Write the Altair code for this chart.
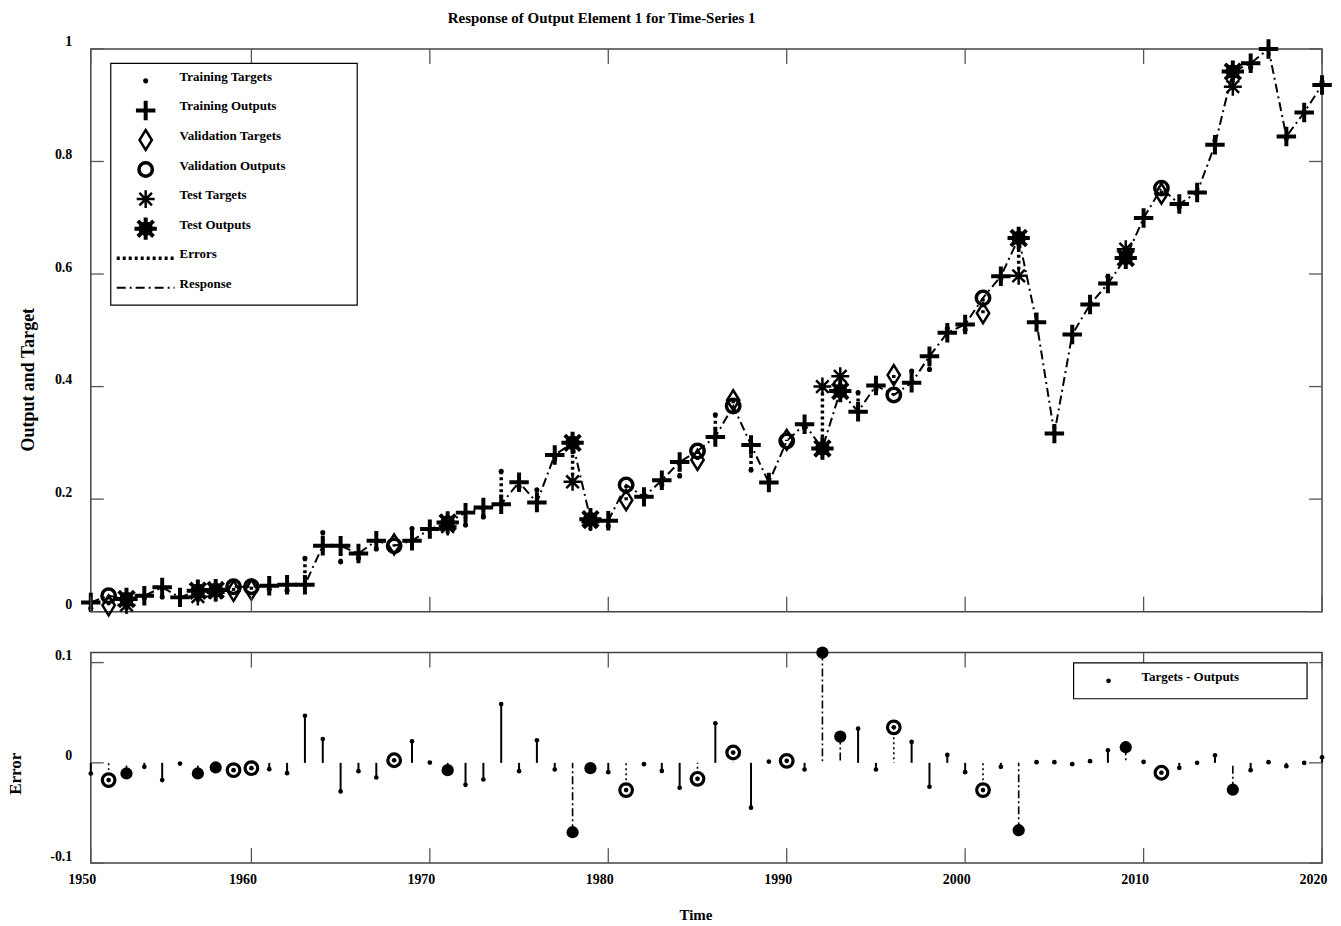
import altair as alt
import pandas as pd

# ---------------- data ----------------
YEARS = [1951, 1952, 1953, 1954, 1955, 1956, 1957, 1958, 1959, 1960,
         1961, 1962, 1963, 1964, 1965, 1966, 1967, 1968, 1969, 1970,
         1971, 1972, 1973, 1974, 1975, 1976, 1977, 1978, 1979, 1980,
         1981, 1982, 1983, 1984, 1985, 1986, 1987, 1988, 1989, 1990,
         1991, 1992, 1993, 1994, 1995, 1996, 1997, 1998, 1999, 2000,
         2001, 2002, 2003, 2004, 2005, 2006, 2007, 2008, 2009, 2010,
         2011, 2012, 2013, 2014, 2015, 2016, 2017, 2018, 2019, 2020]

OUTPUTS = [0.0165, 0.0284, 0.0225, 0.0284, 0.0432, 0.0254, 0.0373, 0.0384, 0.0443, 0.0443,
           0.0461, 0.0479, 0.0479, 0.1170, 0.1170, 0.1034, 0.1260, 0.1170, 0.1260, 0.1467,
           0.1585, 0.1760, 0.1850, 0.1910, 0.2300, 0.1940, 0.2785, 0.3000, 0.1644, 0.1614,
           0.2253, 0.2040, 0.2336, 0.2660, 0.2856, 0.3105, 0.3654, 0.2963, 0.2294, 0.3034,
           0.3330, 0.2900, 0.3920, 0.3554, 0.4020, 0.3850, 0.4068, 0.4540, 0.4955, 0.5104,
           0.5576, 0.5960, 0.6640, 0.5145, 0.3164, 0.4926, 0.5460, 0.5830, 0.6286, 0.6995,
           0.7527, 0.7243, 0.7450, 0.8297, 0.9597, 0.9745, 1.0000, 0.8444, 0.8870, 0.9360]

ERRORS = [-0.0106, -0.0172, -0.0106, -0.0040, -0.0172, -0.0007, -0.0106, -0.0046, -0.0073, -0.0053,
          -0.0063, -0.0103, 0.0470, 0.0238, -0.0285, -0.0083, -0.0146, 0.0026, 0.0215, 0.0003,
          -0.0073, -0.0219, -0.0166, 0.0586, -0.0083, 0.0225, -0.0066, -0.0692, -0.0053, -0.0093,
          -0.0272, -0.0013, -0.0080, -0.0248, -0.0159, 0.0394, 0.0103, -0.0447, 0.0013, 0.0020,
          -0.0066, 0.1100, 0.0262, 0.0341, -0.0066, 0.0354, 0.0209, -0.0238, 0.0079, -0.0093,
          -0.0272, -0.0040, -0.0672, 0.0007, 0.0007, -0.0013, 0.0017, 0.0126, 0.0156, 0.0010,
          -0.0099, -0.0050, 0.0000, 0.0076, -0.0268, -0.0073, 0.0007, -0.0033, 0.0000, 0.0056]

# T = training, V = validation, S = test
SUBSET = ["T", "V", "S", "T", "T", "T", "S", "S", "V", "V",
          "T", "T", "T", "T", "T", "T", "T", "V", "T", "T",
          "S", "T", "T", "T", "T", "T", "T", "S", "S", "T",
          "V", "T", "T", "T", "V", "T", "V", "T", "T", "V",
          "T", "S", "S", "T", "T", "V", "T", "T", "T", "T",
          "V", "T", "S", "T", "T", "T", "T", "T", "S", "T",
          "V", "T", "T", "T", "S", "T", "T", "T", "T", "T"]

X_TICKS = [1951, 1960, 1970, 1980, 1990, 2000, 2010, 2020]
X_TICK_LABELS = ["1950", "1960", "1970", "1980", "1990", "2000", "2010", "2020"]
Y_TICKS_TOP = [0, 0.2, 0.4, 0.6, 0.8, 1]
Y_TICKS_BOT = [-0.1, 0, 0.1]

LEGEND_LABELS = ["Training Targets", "Training Outputs", "Validation Targets",
                 "Validation Outputs", "Test Targets", "Test Outputs", "Errors", "Response"]
ERR_LEGEND = ["Targets - Outputs"]

TITLE = ["Response of Output Element 1 for Time-Series 1"]

# ---------------- styling ----------------
FONT = "Liberation Serif"
W, H1, H2 = 1234, 564, 211
FRAME = "#444444"
PLUS = "M-1,0L1,0M0,-1L0,1"
ASTER = "M-1,0L1,0M0,-1L0,1M-0.7,-0.7L0.7,0.7M-0.7,0.7L0.7,-0.7"
DIAMOND = "M0,-1L0.62,0L0,1L-0.62,0Z"
DASHDOT = [9, 4, 2, 4]

df = pd.DataFrame({"year": YEARS, "output": OUTPUTS, "error": ERRORS, "subset": SUBSET})
df["target"] = df["output"] + df["error"]
df["zero"] = 0.0

xt_df = pd.DataFrame({"t": X_TICKS})
yt_top_df = pd.DataFrame({"v": Y_TICKS_TOP})
yt_bot_df = pd.DataFrame({"v": Y_TICKS_BOT})
leg_df = pd.DataFrame({"label": LEGEND_LABELS, "row": list(range(len(LEGEND_LABELS)))})
one_df = pd.DataFrame({"label": ERR_LEGEND})
title_df = pd.DataFrame({"label": TITLE})

xs = alt.Scale(domain=[YEARS[0], YEARS[-1]], nice=False, zero=False)
ys_top = alt.Scale(domain=[0, 1], nice=False, zero=False)
ys_bot = alt.Scale(domain=[-0.1, 0.11], nice=False, zero=False)

X_none = alt.X("year:Q", scale=xs, axis=None)

label_expr = "".join(f"datum.value == {v} ? '{l}' : " for v, l in zip(X_TICKS, X_TICK_LABELS)) + "''"

x_axis_bot = alt.Axis(values=X_TICKS, labelExpr=label_expr, labelOffset=-9, labelPadding=9,
                      labelFontSize=14, labelOverlap=False, labelFlush=False,
                      title="Time", titleFontSize=15, titleX=606, titleY=52,
                      titleBaseline="middle", titleAlign="center")
y_axis_top = alt.Axis(values=Y_TICKS_TOP, format="~g", labelOffset=-7, labelPadding=19,
                      labelFontSize=14, labelOverlap=False, labelFlush=False,
                      title="Output and Target", titleFontSize=18, titleAngle=-90,
                      titleX=-62, titleY=331, titleAlign="center", titleBaseline="middle")
y_axis_bot = alt.Axis(values=Y_TICKS_BOT, format="~g",
                      labelExpr="replace(datum.label, '\u2212', '-')",
                      labelOffset=-7, labelPadding=19, labelFontSize=14,
                      labelOverlap=False, labelFlush=False,
                      title="Error", titleFontSize=17, titleAngle=-90,
                      titleX=-75, titleY=121, titleAlign="center", titleBaseline="middle")

# ---------------- top panel ----------------
base = alt.Chart(df)

def yt(field, axis=None):
    return alt.Y(f"{field}:Q", scale=ys_top, axis=axis)

response = base.mark_line(color="black", strokeWidth=2, strokeDash=DASHDOT).encode(
    x=X_none, y=yt("output", y_axis_top))
err_top = base.mark_rule(color="black", strokeWidth=3.5, strokeDash=[3, 3]).encode(
    x=X_none, y=yt("target"), y2="output:Q")

def pts(sub, field, **kw):
    return base.transform_filter(alt.datum.subset == sub).mark_point(color="black", opacity=1, **kw).encode(
        x=X_none, y=yt(field))

tr_t = pts("T", "target", shape="circle", filled=True, size=26)
tr_o = pts("T", "output", shape=PLUS, filled=False, size=380, strokeWidth=4)
va_t = pts("V", "target", shape=DIAMOND, filled=False, size=400, strokeWidth=2.5)
va_o = pts("V", "output", shape="circle", filled=False, size=180, strokeWidth=3.5)
te_t = pts("S", "target", shape=ASTER, filled=False, size=324, strokeWidth=2.5)
te_o1 = pts("S", "output", shape="circle", filled=True, size=210)
te_o2 = pts("S", "output", shape=ASTER, filled=False, size=500, strokeWidth=4)

tick_col = "#555555"
xt_top = alt.Chart(xt_df).mark_rule(color=tick_col, strokeWidth=1.3).encode(
    x=alt.X("t:Q", scale=xs, axis=None), y=alt.value(0), y2=alt.value(15))
xt_bot = alt.Chart(xt_df).mark_rule(color=tick_col, strokeWidth=1.3).encode(
    x=alt.X("t:Q", scale=xs, axis=None), y=alt.value(H1 - 15), y2=alt.value(H1))
yt_l = alt.Chart(yt_top_df).mark_rule(color=tick_col, strokeWidth=1.3).encode(
    y=alt.Y("v:Q", scale=ys_top, axis=None), x=alt.value(0), x2=alt.value(13))
yt_r = alt.Chart(yt_top_df).mark_rule(color=tick_col, strokeWidth=1.3).encode(
    y=alt.Y("v:Q", scale=ys_top, axis=None), x=alt.value(W - 13), x2=alt.value(W))

# chart title as a text mark above the panel
title_mark = alt.Chart(title_df).mark_text(
    align="center", baseline="middle", font=FONT, fontSize=15, fontWeight="bold", color="black"
).encode(x=alt.value(512), y=alt.value(-31), text="label:N")

# legend (top)
leg_base = alt.Chart(leg_df)
leg_y = alt.Y("row:Q", scale=alt.Scale(domain=[0, 7], range=[32, 239.4]), axis=None)
leg_box = alt.Chart(one_df).mark_rect(fill="white", stroke="black", strokeWidth=1.2).encode(
    x=alt.value(20), x2=alt.value(267), y=alt.value(14.4), y2=alt.value(256.7))
leg_text = leg_base.mark_text(align="left", baseline="middle", dy=-4, font=FONT,
                              fontSize=13, fontWeight="bold", color="black").encode(
    x=alt.value(89), y=leg_y, text="label:N")

def leg_sym(row, **kw):
    return leg_base.transform_filter(alt.datum.row == row).mark_point(color="black", opacity=1, **kw).encode(
        x=alt.value(55), y=leg_y)

leg_syms = [
    leg_sym(0, shape="circle", filled=True, size=26),
    leg_sym(1, shape=PLUS, filled=False, size=380, strokeWidth=4),
    leg_sym(2, shape=DIAMOND, filled=False, size=400, strokeWidth=2.5),
    leg_sym(3, shape="circle", filled=False, size=180, strokeWidth=3.5),
    leg_sym(4, shape=ASTER, filled=False, size=324, strokeWidth=2.5),
    leg_sym(5, shape="circle", filled=True, size=210),
    leg_sym(5, shape=ASTER, filled=False, size=500, strokeWidth=4),
]
leg_err = leg_base.transform_filter(alt.datum.row == 6).mark_rule(
    color="black", strokeWidth=3.5, strokeDash=[3, 3]).encode(x=alt.value(26), x2=alt.value(84), y=leg_y)
leg_resp = leg_base.transform_filter(alt.datum.row == 7).mark_rule(
    color="black", strokeWidth=2, strokeDash=DASHDOT).encode(x=alt.value(26), x2=alt.value(84), y=leg_y)

top = alt.layer(
    response, err_top, tr_t, tr_o, va_t, va_o, te_t, te_o1, te_o2,
    xt_top, xt_bot, yt_l, yt_r, title_mark,
    leg_box, leg_text, *leg_syms, leg_err, leg_resp,
).resolve_scale(y="independent").properties(width=W, height=H1)

# ---------------- bottom panel ----------------
X_b = alt.X("year:Q", scale=xs, axis=x_axis_bot)
Y_b = alt.Y("error:Q", scale=ys_bot, axis=y_axis_bot)

zero_line = base.mark_rule(color="black", strokeWidth=2).encode(
    x=X_b, y=alt.Y("zero:Q", scale=ys_bot, axis=y_axis_bot))

def stems(sub, **kw):
    return base.transform_filter(alt.datum.subset == sub).mark_rule(color="black", **kw).encode(
        x=X_b, y=Y_b, y2="zero:Q")

st_t = stems("T", strokeWidth=2)
st_v = stems("V", strokeWidth=1.6, strokeDash=[2, 3])
st_s = stems("S", strokeWidth=1.6, strokeDash=[8, 3, 2, 3])

dots = base.mark_point(shape="circle", filled=True, size=22, color="black", opacity=1).encode(x=X_b, y=Y_b)
v_circ = base.transform_filter(alt.datum.subset == "V").mark_point(
    shape="circle", filled=False, size=160, strokeWidth=3.2, color="black", opacity=1).encode(x=X_b, y=Y_b)
s_circ = base.transform_filter(alt.datum.subset == "S").mark_point(
    shape="circle", filled=True, size=150, color="black", opacity=1).encode(x=X_b, y=Y_b)

bxt_top = alt.Chart(xt_df).mark_rule(color=tick_col, strokeWidth=1.3).encode(
    x=alt.X("t:Q", scale=xs, axis=x_axis_bot), y=alt.value(0), y2=alt.value(15))
bxt_bot = alt.Chart(xt_df).mark_rule(color=tick_col, strokeWidth=1.3).encode(
    x=alt.X("t:Q", scale=xs, axis=x_axis_bot), y=alt.value(H2 - 15), y2=alt.value(H2))
byt_l = alt.Chart(yt_bot_df).mark_rule(color=tick_col, strokeWidth=1.3).encode(
    y=alt.Y("v:Q", scale=ys_bot, axis=y_axis_bot), x=alt.value(0), x2=alt.value(13))
byt_r = alt.Chart(yt_bot_df).mark_rule(color=tick_col, strokeWidth=1.3).encode(
    y=alt.Y("v:Q", scale=ys_bot, axis=y_axis_bot), x=alt.value(W - 13), x2=alt.value(W))

one = alt.Chart(one_df)
bleg_box = one.mark_rect(fill="white", stroke="black", strokeWidth=1.2).encode(
    x=alt.value(985), x2=alt.value(1219), y=alt.value(10.3), y2=alt.value(46.3))
bleg_dot = one.mark_point(shape="circle", filled=True, size=22, color="black", opacity=1).encode(
    x=alt.value(1020), y=alt.value(28.3))
bleg_txt = one.mark_text(align="left", baseline="middle", font=FONT, fontSize=13,
                         fontWeight="bold", color="black").encode(
    x=alt.value(1053), y=alt.value(24.5), text="label:N")

# invisible layout anchors fixing the page extents (top-left and bottom-right corners)
anchor_tl = one.mark_rect(opacity=0).encode(
    x=alt.value(-90), x2=alt.value(-89), y=alt.value(-652), y2=alt.value(-651))
anchor_br = one.mark_rect(opacity=0).encode(
    x=alt.value(1250), x2=alt.value(1251), y=alt.value(273), y2=alt.value(274))

bottom = alt.layer(
    zero_line, st_t, st_v, st_s, dots, v_circ, s_circ,
    bxt_top, bxt_bot, byt_l, byt_r,
    bleg_box, bleg_dot, bleg_txt, anchor_tl, anchor_br,
).properties(width=W, height=H2)

chart = alt.vconcat(top, bottom, spacing=41, bounds="flush").properties(
    padding=0, background="white"
).configure_view(
    stroke=FRAME, strokeWidth=1.5
).configure_axis(
    labelFont=FONT, titleFont=FONT, labelFontWeight="bold", titleFontWeight="bold",
    labelColor="black", titleColor="black", grid=False, domain=False, ticks=False,
)

chart.save("out.html", embed_options={"renderer": "svg", "actions": False})
